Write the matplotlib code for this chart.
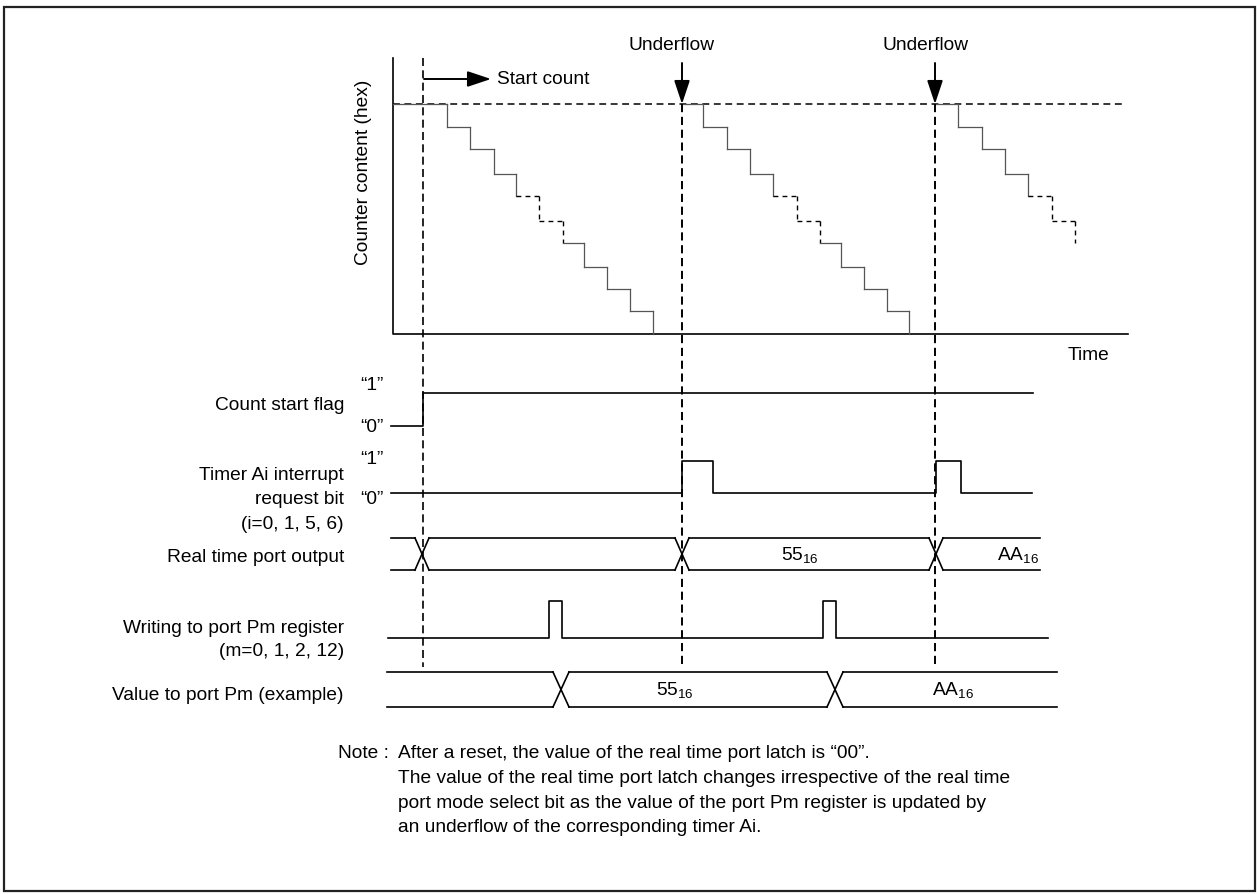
import matplotlib
matplotlib.use("Agg")
import matplotlib.pyplot as plt
from matplotlib.patches import Rectangle

plt.rcParams['font.family'] = ['Liberation Sans', 'DejaVu Sans']
plt.rcParams['mathtext.default'] = 'regular'

# --- timing data (horizontal positions are time, in diagram units) ---
start_x = 423
underflow_x = [682, 935]

# counter staircase: step times for each count cycle, and the count levels
cycle_starts = [393, 682, 935]
step_x = [
    [447, 470, 494, 516, 539, 563, 584, 607, 630, 653],
    [703, 727, 750, 773, 797, 820, 841, 864, 887, 909],
    [958, 982, 1005, 1028, 1052, 1075],
]
count_levels = [104, 127, 149, 174, 196, 221, 243, 267, 289, 311, 334]
dashed_segments = [8, 9, 10, 11]

# digital signals: edge times and start level
flag_edges = [391, 423, 1033]
flag_start = 0
irq_edges = [391, 682, 713, 936, 961, 1032]
irq_start = 0
write_edges = [388, 549, 562, 823, 836, 1048]
write_start = 0

# bus signals: start, crossings, end, values
rtp_start, rtp_cross, rtp_end = 391, [422, 682, 936], 1040
rtp_values = ["", "", "55$_{16}$", "AA$_{16}$"]
rtp_value_x = [None, None, 800, 1018]
val_start, val_cross, val_end = 387, [561, 835], 1057
val_values = ["", "55$_{16}$", "AA$_{16}$"]
val_value_x = [None, 675, 953]

row_labels = ["Count start flag", "Timer Ai interrupt\nrequest bit\n(i=0, 1, 5, 6)",
              "Real time port output", "Writing to port Pm register\n(m=0, 1, 2, 12)",
              "Value to port Pm (example)"]

note_lines = [
    "After a reset, the value of the real time port latch is \u201c00\u201d.",
    "The value of the real time port latch changes irrespective of the real time",
    "port mode select bit as the value of the port Pm register is updated by",
    "an underflow of the corresponding timer Ai.",
]

FS = 13.8
LW = 1.2

fig = plt.figure(figsize=(12.57, 8.94), dpi=100)
ax = fig.add_axes([0, 0, 1, 1])
ax.set_xlim(0, 1257)
ax.set_ylim(894, 0)
ax.axis('off')

ax.add_patch(Rectangle((4, 7), 1251, 884, fill=False, lw=1.6, ec='#222222'))

# counter chart axes
ax.plot([393, 393, 1128], [58, 334, 334], color='k', lw=LW)
ax.plot([393, 1125], [104, 104], color='k', lw=1.1, linestyle=(0, (4.5, 3)))
ax.text(364, 172, "Counter content (hex)", rotation=90, ha='center', va='center', fontsize=FS)
ax.text(1089, 356, "Time", ha='center', va='center', fontsize=FS)

# staircases
for xs0, xs in zip(cycle_starts, step_x):
    px = [xs0]
    py = [count_levels[0]]
    for i, x in enumerate(xs):
        px += [x, x]
        py += [count_levels[i], count_levels[i + 1]]
    for k in range(len(px) - 1):
        if k in dashed_segments:
            ax.plot(px[k:k + 2], py[k:k + 2], color='k', lw=1.0, linestyle=(0, (3.5, 3)))
        else:
            ax.plot(px[k:k + 2], py[k:k + 2], color='#555555', lw=0.9)

# vertical marker lines
ax.plot([start_x, start_x], [58, 667], color='k', lw=1.2, linestyle=(0, (4.8, 2.6)))
for ux in underflow_x:
    ax.plot([ux, ux], [104, 667], color='k', lw=1.4, linestyle=(0, (4.2, 2.4)))
    ax.annotate('', xy=(ux, 104), xytext=(ux, 63),
                arrowprops=dict(arrowstyle='-|>,head_length=0.6,head_width=0.2',
                                color='k', lw=1.4, mutation_scale=24, shrinkA=0, shrinkB=0))
    ax.text(ux - 10, 45, "Underflow", ha='center', va='center', fontsize=FS)

ax.annotate('', xy=(491, 79), xytext=(424, 79),
            arrowprops=dict(arrowstyle='-|>,head_length=0.6,head_width=0.2',
                            color='k', lw=1.4, mutation_scale=24, shrinkA=0, shrinkB=0))
ax.text(497, 79, "Start count", ha='left', va='center', fontsize=FS)


def stepwave(edges, start, y_lo, y_hi):
    px, py = [], []
    lvl = start
    for i in range(len(edges) - 1):
        y = y_hi if lvl else y_lo
        px += [edges[i], edges[i + 1]]
        py += [y, y]
        lvl = 1 - lvl
    ax.plot(px, py, color='k', lw=LW)


def bus(x0, crosses, x1, y_up, y_lo, half, values, value_x):
    bounds = [x0] + crosses + [x1]
    for i in range(len(bounds) - 1):
        a = bounds[i] + (half if i > 0 else 0)
        b = bounds[i + 1] - (half if i + 1 < len(bounds) - 1 else 0)
        ax.plot([a, b], [y_up, y_up], color='k', lw=LW)
        ax.plot([a, b], [y_lo, y_lo], color='k', lw=LW)
        if values[i]:
            ax.text(value_x[i], (y_up + y_lo) / 2 + 1, values[i], ha='center', va='center', fontsize=FS)
    for c in crosses:
        ax.plot([c - half, c + half], [y_up, y_lo], color='k', lw=LW)
        ax.plot([c - half, c + half], [y_lo, y_up], color='k', lw=LW)


stepwave(flag_edges, flag_start, 426, 393)
stepwave(irq_edges, irq_start, 493, 461)
stepwave(write_edges, write_start, 638, 601)
bus(rtp_start, rtp_cross, rtp_end, 538, 570, 7, rtp_values, rtp_value_x)
bus(val_start, val_cross, val_end, 672, 707, 8, val_values, val_value_x)

# level markers
for y, s in [(385, "\u201c1\u201d"), (427, "\u201c0\u201d"), (460, "\u201c1\u201d"), (500, "\u201c0\u201d")]:
    ax.text(372, y, s, ha='center', va='center', fontsize=FS)

# row labels
label_y = [406, 500, 557, 640, 695]
ax.text(344, label_y[0], row_labels[0], ha='right', va='center', fontsize=FS)
ax.text(344, label_y[1], row_labels[1], ha='right', va='center', fontsize=FS, linespacing=1.55)
ax.text(344, label_y[2], row_labels[2], ha='right', va='center', fontsize=FS)
ax.text(344, label_y[3], row_labels[3], ha='right', va='center', fontsize=FS, linespacing=1.5)
ax.text(344, label_y[4], row_labels[4], ha='right', va='center', fontsize=FS)

# note
ax.text(338, 754, "Note :", ha='left', va='center', fontsize=FS)
for i, line in enumerate(note_lines):
    ax.text(398, 754 + i * 24.5, line, ha='left', va='center', fontsize=FS)

fig.savefig("out.png", dpi=100)
